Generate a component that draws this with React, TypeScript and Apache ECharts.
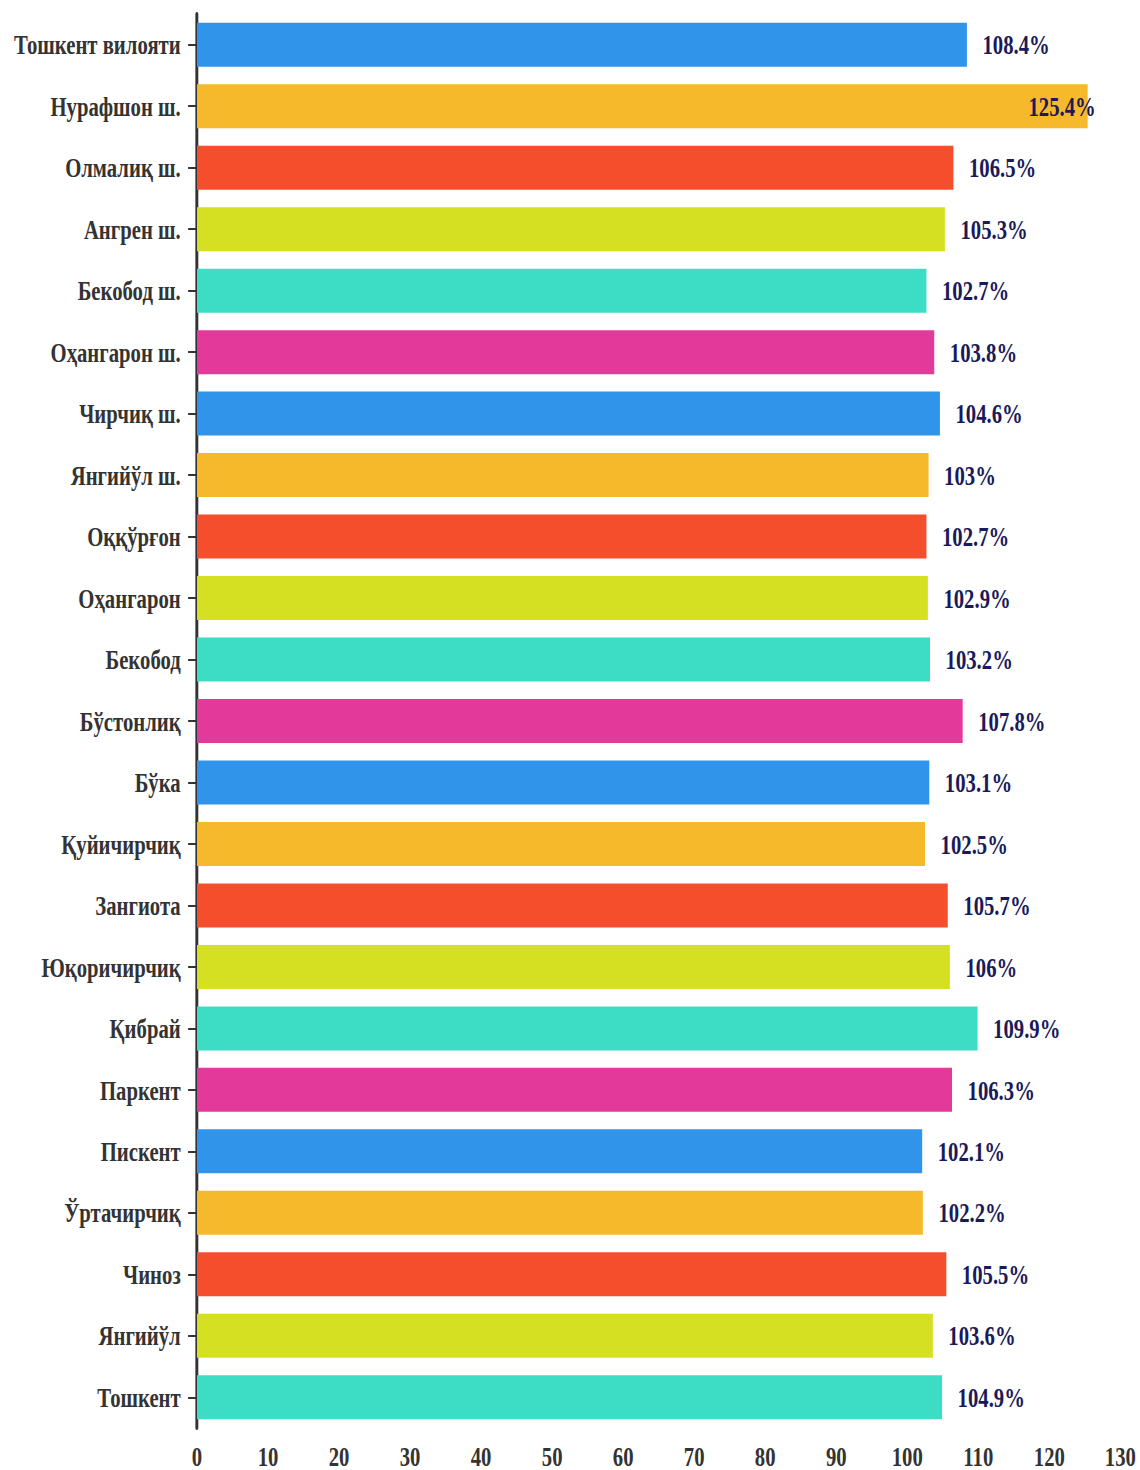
import React, { useEffect, useRef } from "react";
import * as echarts from "echarts";

const categories = [
  "Тошкент вилояти", "Нурафшон ш.", "Олмалиқ ш.", "Ангрен ш.", "Бекобод ш.",
  "Оҳангарон ш.", "Чирчиқ ш.", "Янгийўл ш.", "Оққўрғон", "Оҳангарон",
  "Бекобод", "Бўстонлиқ", "Бўка", "Қуйичирчиқ", "Зангиота",
  "Юқоричирчиқ", "Қибрай", "Паркент", "Пискент", "Ўртачирчиқ",
  "Чиноз", "Янгийўл", "Тошкент",
];
const values = [
  108.4, 125.4, 106.5, 105.3, 102.7,
  103.8, 104.6, 103, 102.7, 102.9,
  103.2, 107.8, 103.1, 102.5, 105.7,
  106, 109.9, 106.3, 102.1, 102.2,
  105.5, 103.6, 104.9,
];
const palette = ["#3094EA", "#F6B92B", "#F44E2C", "#D6E022", "#3DDDC5", "#E3399B"];

const S = 0.74;
const PW = 1140;
const H = 1470;
const W = PW / S;

export default function App() {
  const ref = useRef<HTMLDivElement>(null);
  useEffect(() => {
    document.body.style.margin = "0";
    document.documentElement.style.overflow = "hidden";
    document.body.style.overflow = "hidden";
    if (!ref.current) return;
    const chart = echarts.init(ref.current, null, { renderer: "svg" });
    const font = "'Liberation Serif', 'Times New Roman', serif";
    const left = 197 / S;
    const right = W - 1120 / S;
    chart.setOption({
      animation: false,
      textStyle: { fontFamily: font },
      grid: { left, right, top: 14, bottom: 41, containLabel: false },
      xAxis: {
        type: "value",
        min: 0,
        max: 130,
        interval: 10,
        axisLine: { show: false },
        axisTick: { show: false },
        splitLine: { show: false },
        axisLabel: { color: "#333", fontSize: 28, fontWeight: "bold", fontFamily: font, margin: 14 },
      },
      yAxis: {
        type: "category",
        inverse: true,
        data: categories,
        axisLine: { show: true, lineStyle: { color: "#333", width: 4 } },
        axisTick: { show: true, length: 12, alignWithLabel: true, lineStyle: { color: "#333", width: 2 } },
        axisLabel: { color: "#333", fontSize: 28, fontWeight: "bold", fontFamily: font, margin: 22 },
      },
      series: [
        {
          type: "bar",
          barWidth: 44,
          data: values.map((v) =>
            v > 120
              ? { value: v, label: { position: "insideRight", distance: 5, offset: [16, 0] } }
              : v
          ),
          itemStyle: { color: (p: any) => palette[p.dataIndex % palette.length] },
          label: {
            show: true,
            position: "right",
            distance: 21,
            formatter: "{c}%",
            color: "#1a1a5a",
            fontSize: 28,
            fontWeight: "bold",
            fontFamily: font,
          },
        },
      ],
    });
    return () => chart.dispose();
  }, []);
  return (
    <div style={{ width: PW, height: H, overflow: "hidden", position: "relative" }}>
      <div
        ref={ref}
        style={{ width: W, height: H, transform: `scaleX(${S})`, transformOrigin: "0 0" }}
      />
    </div>
  );
}
